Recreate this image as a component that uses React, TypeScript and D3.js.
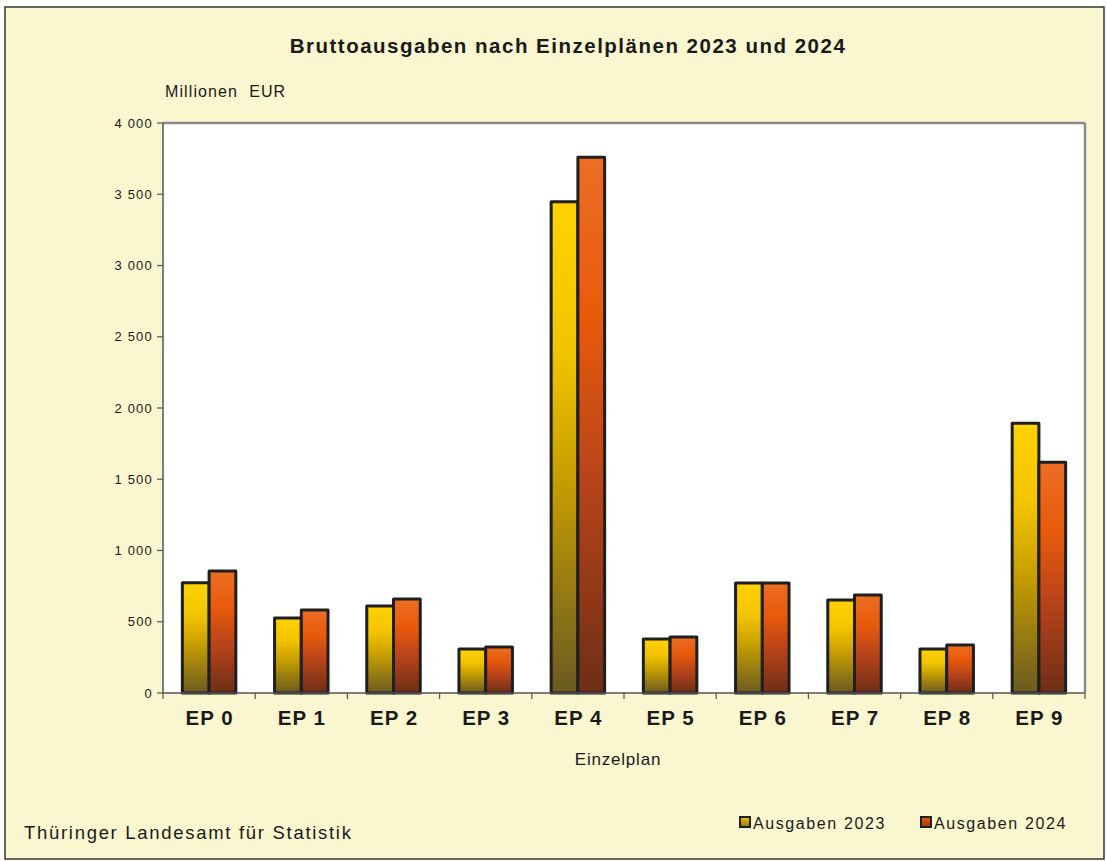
import React from 'react';
import * as d3 from 'd3';

const categories = ['EP 0', 'EP 1', 'EP 2', 'EP 3', 'EP 4', 'EP 5', 'EP 6', 'EP 7', 'EP 8', 'EP 9'];
const values2023 = [774, 526, 610, 309, 3448, 379, 772, 653, 309, 1893];
const values2024 = [856, 582, 660, 323, 3759, 393, 772, 688, 337, 1619];
const seriesNames = ['Ausgaben 2023', 'Ausgaben 2024'];
const yTicks = [0, 500, 1000, 1500, 2000, 2500, 3000, 3500, 4000];

const W = 1107, H = 861;
const plot = { left: 163, right: 1085, top: 123, bottom: 693 };
const font = '"Liberation Sans", Arial, sans-serif';

const fmt = (v: number) => d3.format(',')(v).replace(/,/g, ' ');

export default function App() {
  const x = d3.scaleBand<string>()
    .domain(categories)
    .range([plot.left, plot.right])
    .paddingInner(0)
    .paddingOuter(0);
  const y = d3.scaleLinear().domain([0, 4000]).range([plot.bottom, plot.top]);
  const barW = x.bandwidth() * 0.29;

  const series = [values2023, values2024];
  const grads = ['gYellow', 'gOrange'];

  return (
    <svg width={W} height={H} style={{ position: 'absolute', left: 0, top: 0 }}>
      <defs>
        <linearGradient id="gYellow" x1="0" y1="0" x2="0" y2="1">
          <stop offset="0" stopColor="#FFD200" />
          <stop offset="0.3" stopColor="#F2C400" />
          <stop offset="0.55" stopColor="#C9A000" />
          <stop offset="1" stopColor="#6B5A22" />
        </linearGradient>
        <linearGradient id="gOrange" x1="0" y1="0" x2="0" y2="1">
          <stop offset="0" stopColor="#EC6E24" />
          <stop offset="0.3" stopColor="#E85A0A" />
          <stop offset="0.6" stopColor="#B9441A" />
          <stop offset="1" stopColor="#6E2E16" />
        </linearGradient>
        <linearGradient id="lYellow" x1="0" y1="0" x2="0" y2="1">
          <stop offset="0" stopColor="#F2C400" />
          <stop offset="1" stopColor="#8A7410" />
        </linearGradient>
        <linearGradient id="lOrange" x1="0" y1="0" x2="0" y2="1">
          <stop offset="0" stopColor="#E85A0A" />
          <stop offset="1" stopColor="#9A3A14" />
        </linearGradient>
      </defs>

      {/* background */}
      <rect x={5} y={7} width={1099} height={852} fill="#FAF6CF" stroke="#333" strokeWidth={1.5} />

      {/* title */}
      <text x={568} y={53} textAnchor="middle" fontFamily={font} fontWeight="bold" fontSize={20.5}
        letterSpacing={1.5} fill="#1a1a1a">
        Bruttoausgaben nach Einzelplänen 2023 und 2024
      </text>
      <text x={165} y={97} fontFamily={font} fontSize={16} letterSpacing={1.1} fill="#1a1a1a"
        style={{ whiteSpace: 'pre' }}>{'Millionen  EUR'}</text>

      {/* plot area */}
      <rect x={plot.left} y={plot.top} width={plot.right - plot.left} height={plot.bottom - plot.top}
        fill="#FFFFFF" />
      <line x1={plot.left} x2={plot.right} y1={plot.top} y2={plot.top} stroke="#8a8a8a" strokeWidth={2.5} />
      <line x1={plot.right} x2={plot.right} y1={plot.top} y2={plot.bottom} stroke="#8a8a8a" strokeWidth={2.5} />

      {/* y axis */}
      <line x1={plot.left} x2={plot.left} y1={plot.top} y2={plot.bottom} stroke="#555" strokeWidth={1.5} />
      {yTicks.map(t => (
        <g key={t}>
          <line x1={plot.left - 6} x2={plot.left} y1={y(t)} y2={y(t)} stroke="#555" strokeWidth={1.2} />
          <text x={153} y={y(t)} dy="0.35em" textAnchor="end" fontFamily={font} fontSize={13}
            letterSpacing={1.2} fill="#1a1a1a">{fmt(t)}</text>
        </g>
      ))}

      {/* bars */}
      {categories.map((c, i) => {
        const cx = (x(c) as number) + x.bandwidth() / 2;
        return (
          <g key={c}>
            {series.map((s, k) => (
              <rect key={k}
                x={cx - barW + k * barW}
                y={y(s[i])}
                width={barW}
                height={y(0) - y(s[i])}
                fill={`url(#${grads[k]})`}
                stroke="#1f1f1f"
                strokeWidth={3}
                strokeLinejoin="round" />
            ))}
          </g>
        );
      })}

      {/* x axis */}
      <line x1={plot.left} x2={plot.right} y1={plot.bottom} y2={plot.bottom} stroke="#555" strokeWidth={1.5} />
      {categories.concat(['end']).map((c, i) => {
        const xx = plot.left + i * x.step();
        return <line key={c} x1={xx} x2={xx} y1={plot.bottom} y2={plot.bottom + 6} stroke="#555" strokeWidth={1.2} />;
      })}
      {categories.map(c => (
        <text key={c} x={(x(c) as number) + x.bandwidth() / 2 + 0.5} y={725} textAnchor="middle" fontFamily={font}
          fontWeight="bold" fontSize={20.5} letterSpacing={1} fill="#1a1a1a">{c}</text>
      ))}
      <text x={618} y={765} textAnchor="middle" fontFamily={font} fontSize={17} letterSpacing={0.8}
        fill="#1a1a1a">Einzelplan</text>

      {/* footer */}
      <text x={24} y={839} fontFamily={font} fontSize={18.5} letterSpacing={1.7} fill="#1a1a1a">Thüringer Landesamt für Statistik</text>

      {/* legend */}
      {seriesNames.map((n, k) => {
        const lx = k === 0 ? 740 : 921;
        return (
          <g key={n}>
            <rect x={lx} y={817} width={10} height={10} fill={`url(#${k === 0 ? 'lYellow' : 'lOrange'})`}
              stroke="#1f1f1f" strokeWidth={2} />
            <text x={lx + 13} y={829} fontFamily={font} fontSize={16} letterSpacing={1.6} fill="#1a1a1a">{n}</text>
          </g>
        );
      })}
    </svg>
  );
}
